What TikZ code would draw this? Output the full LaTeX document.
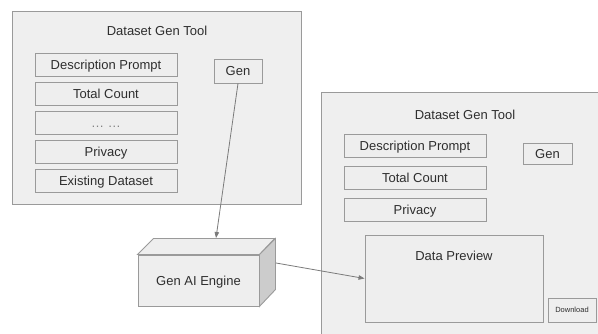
\documentclass[tikz,border=0pt]{standalone}
\usepackage{fontspec}
\setmainfont{Liberation Sans}
\usetikzlibrary{arrows.meta}
\definecolor{panelfill}{HTML}{EFEFEF}
\definecolor{boxfill}{HTML}{EEEEEE}
\definecolor{edge}{HTML}{9A9A9A}
\definecolor{sidefill}{HTML}{CCCCCC}
\definecolor{txt}{HTML}{2E2E2E}
\tikzset{
  panel/.style={draw=edge, fill=panelfill, line width=0.9pt, inner sep=0pt},
  field/.style={draw=edge, fill=boxfill, line width=0.9pt, inner sep=0pt, minimum width=142pt, minimum height=23pt, text=txt, font=\fontsize{13}{15}\selectfont, text height=9.3pt, text depth=0pt},
  btn/.style={draw=edge, fill=boxfill, line width=0.9pt, inner sep=0pt, text=txt, font=\fontsize{13}{15}\selectfont, text height=9.3pt, text depth=0pt},
  label/.style={text=txt, font=\fontsize{13}{15}\selectfont, inner sep=0pt, text height=9.3pt, text depth=0pt},
  conn/.style={draw=edge!80!black, line width=0.8pt, -{Triangle[length=6pt,width=4.5pt]}}
}
\begin{document}
\begin{tikzpicture}[x=1pt,y=-1pt]
\useasboundingbox (0,0) rectangle (598,334);
\clip (0,0) rectangle (598,334);
\fill[white] (0,0) rectangle (598,334);
% left panel
\node[panel, minimum width=289pt, minimum height=193pt] (lpanel) at (156.5,107.5) {};
\node[label] (ltitle) at (157,31) {Dataset Gen Tool};
\node[field] (ldesc) at (106,65) {Description Prompt};
\node[field] (lcount) at (106,93.5) {Total Count};
\node[field, text=txt!60] (ldots) at (106,122.5) {… …};
\node[field] (lpriv) at (106,151.5) {Privacy};
\node[field] (lexist) at (106,181) {Existing Dataset};
\node[btn, minimum width=48pt, minimum height=24pt] (lgen) at (238,71) {Gen};
% right panel
\node[panel, minimum width=289pt, minimum height=253pt] (rpanel) at (465.5,218.5) {};
\node[label] (rtitle) at (465,115) {Dataset Gen Tool};
\node[field] (rdesc) at (415,146) {Description Prompt};
\node[field] (rcount) at (415,178) {Total Count};
\node[field] (rpriv) at (415,210) {Privacy};
\node[btn, minimum width=49pt, minimum height=21pt] (rgen) at (547.5,154) {Gen};
\node[btn, minimum width=178pt, minimum height=87pt] (preview) at (454,278.5) {};
\node[label] (ptitle) at (454,256) {Data Preview};
\node[btn, minimum width=48pt, minimum height=24pt, font=\fontsize{7.5}{9}\selectfont, text height=5.4pt] (download) at (572,310) {Download};
% engine cube
\node[btn, minimum width=121pt, minimum height=51pt] (engine) at (198.5,280.5) {Gen AI Engine};
\filldraw[draw=edge, fill=boxfill, line width=0.9pt] (engine.north west) -- ++(16,-16) -- ++(121,0) -- (engine.north east) -- cycle;
\filldraw[draw=edge, fill=sidefill, line width=0.9pt] (engine.north east) -- ++(16,-16) -- ++(0,51) -- (engine.south east) -- cycle;
\coordinate (enginetop) at (216,238);
\coordinate (engineside) at (276,263);
% connectors
\draw[conn] (lgen.south) -- (enginetop);
\draw[conn] (engineside) -- (preview.west);
\end{tikzpicture}
\end{document}
